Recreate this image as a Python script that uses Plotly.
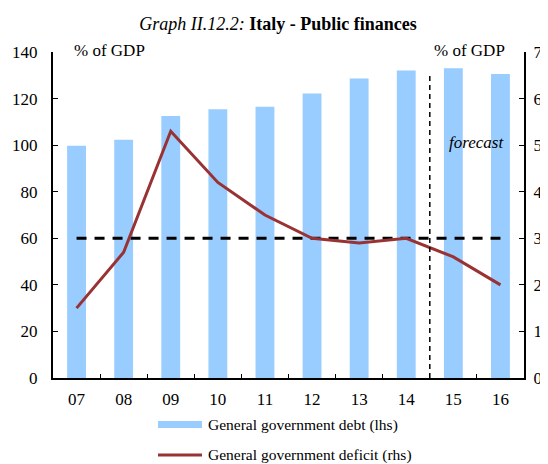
import plotly.graph_objects as go

years = ["07", "08", "09", "10", "11", "12", "13", "14", "15", "16"]
debt = [99.7, 102.3, 112.5, 115.4, 116.5, 122.2, 128.6, 132.1, 133.0, 130.5]
deficit = [1.5, 2.7, 5.3, 4.2, 3.5, 3.0, 2.9, 3.0, 2.6, 2.0]
reference_60 = [60] * len(years)
last_actual = "14"
debt_label = "General government debt (lhs)"
deficit_label = "General government deficit (rhs)"

FONT = "Liberation Serif"
BAR_COLOR = "#99CCFF"
LINE_COLOR = "#993333"

# page body adds an 8px margin, so the figure is drawn 8px smaller and
# reference pixel positions are shifted by that offset
OFF = 8
W, H = 548 - OFF, 464 - OFF
ML, MR, MT = 53 - OFF, 548 - 524, 52 - OFF
MB = H - (378 - OFF)
PW, PH = W - ML - MR, H - MT - MB


def px_x(px):
    return (px - OFF - ML) / PW


def px_y(py):
    return (H - MB - (py - OFF)) / PH


fig = go.Figure()

fig.add_trace(go.Bar(
    x=years, y=debt, name=debt_label,
    marker=dict(color=BAR_COLOR, line=dict(width=0)), width=0.4, yaxis="y",
))
fig.add_trace(go.Scatter(
    x=years, y=reference_60, mode="lines",
    line=dict(color="black", width=3, dash="10px,8px"),
    hoverinfo="skip", yaxis="y",
))
fig.add_trace(go.Scatter(
    x=years, y=deficit, mode="lines", name=deficit_label,
    line=dict(color=LINE_COLOR, width=3), yaxis="y2",
))

split = years.index(last_actual) + 0.5
fig.add_shape(type="line", xref="x", yref="paper", x0=split, x1=split,
              y0=0, y1=px_y(73), line=dict(color="black", width=1.5, dash="5px,4px"))

fig.add_annotation(x=years.index(last_actual) + 1.5, y=101, xref="x", yref="y",
                   text="<i>forecast</i>", showarrow=False,
                   font=dict(family=FONT, size=17, color="black"))
fig.add_annotation(x=px_x(72), y=px_y(50), xref="paper", yref="paper", xanchor="left",
                   yanchor="middle", text="% of GDP", showarrow=False,
                   font=dict(family=FONT, size=17, color="black"))
fig.add_annotation(x=px_x(507), y=px_y(50), xref="paper", yref="paper", xanchor="right",
                   yanchor="middle", text="% of GDP", showarrow=False,
                   font=dict(family=FONT, size=17, color="black"))

# legend (drawn manually to match the swatch style)
fig.add_shape(type="rect", xref="paper", yref="paper",
              x0=px_x(158), x1=px_x(202), y0=px_y(428), y1=px_y(421),
              fillcolor=BAR_COLOR, line=dict(width=0))
fig.add_shape(type="line", xref="paper", yref="paper",
              x0=px_x(158), x1=px_x(202), y0=px_y(455), y1=px_y(455),
              line=dict(color=LINE_COLOR, width=3))
for label, py in [(debt_label, 425), (deficit_label, 455)]:
    fig.add_annotation(x=px_x(206), y=px_y(py), xref="paper", yref="paper",
                       xanchor="left", yanchor="middle", text=label, showarrow=False,
                       font=dict(family=FONT, size=15.5, color="black"))

fig.update_layout(
    width=W, height=H,
    margin=dict(l=ML, r=MR, t=MT, b=MB, autoexpand=False),
    paper_bgcolor="white", plot_bgcolor="white",
    showlegend=False,
    font=dict(family=FONT, size=17, color="black"),
    title=dict(text="<i>Graph II.12.2:</i> <b>Italy - Public finances</b>",
               x=0.5, xanchor="center", y=1 - (24 - OFF) / H, yanchor="middle",
               font=dict(family=FONT, size=18, color="black")),
    xaxis=dict(type="category", tickson="boundaries", ticks="inside", ticklen=4,
               tickwidth=1, tickcolor="black", showline=True, linecolor="black",
               linewidth=2, showgrid=False, zeroline=False, automargin=False,
               ticklabelstandoff=5, range=[-0.5, 9.5]),
    yaxis=dict(range=[0, 140], dtick=20, ticks="inside", ticklen=5, tickwidth=1,
               tickcolor="black", showline=True, linecolor="black", linewidth=2,
               showgrid=False, zeroline=False, automargin=False,
               ticklabelstandoff=10),
    yaxis2=dict(range=[0, 7], dtick=1, overlaying="y", side="right",
                ticks="inside", ticklen=5, tickwidth=1, tickcolor="black",
                showline=True, linecolor="black", linewidth=2, showgrid=False,
                zeroline=False, automargin=False, ticklabelstandoff=4),
)

fig.write_html("out.html")
